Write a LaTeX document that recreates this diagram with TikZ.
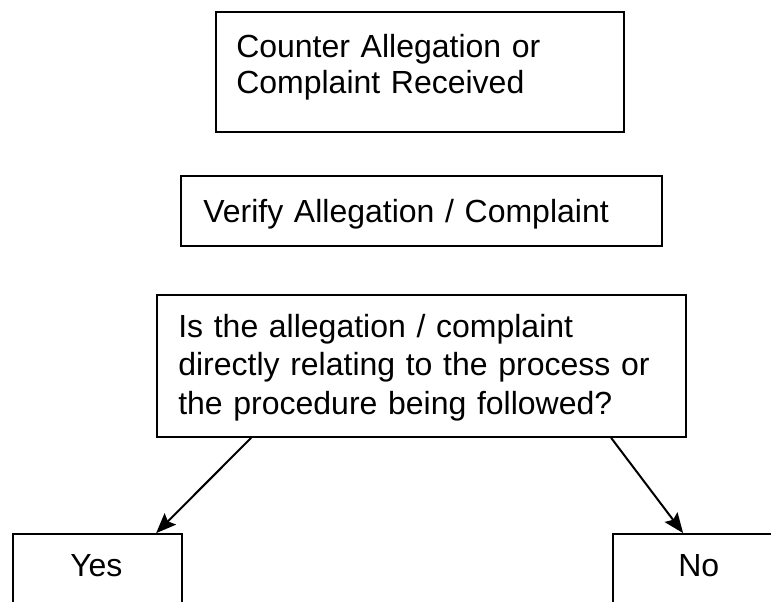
\documentclass[tikz,border=0pt]{standalone}
\usepackage{fontspec}
\setmainfont{Liberation Sans}
\usetikzlibrary{arrows.meta}
\begin{document}
\begin{tikzpicture}[x=0.75pt,y=-0.75pt,
  box/.style={draw, line width=1.3pt, inner sep=0pt},
  txt/.style={inner sep=0pt, anchor=base west, align=left, font=\fontsize{24}{28.9}\selectfont},
  arr/.style={line width=1.5pt, -{Stealth[length=15pt,width=12pt,inset=2.5pt]}}]
\useasboundingbox (0,0) rectangle (771,602);
\clip (0,0) rectangle (771,602);
% boxes
\node[box, minimum width=306pt, minimum height=90pt] (b1) at (420,72) {};
\node[box, minimum width=360.75pt, minimum height=52.5pt] (b2) at (421.5,211) {};
\node[box, minimum width=396.75pt, minimum height=106.5pt] (b3) at (421.5,366) {};
\node[box, minimum width=126.75pt, minimum height=69pt] (yes) at (97.5,580) {};
\node[box, minimum width=140.25pt, minimum height=69pt] (no) at (706.5,580) {};
% texts
\node[txt, text width=300pt, font=\fontsize{24}{26.5}\selectfont] (t1) at (236,58) {Counter Allegation or\\Complaint Received};
\node[txt, text width=340pt] (t2) at (203,223) {Verify Allegation / Complaint};
\node[txt, text width=390pt] (t3) at (178,337) {Is the allegation / complaint\\directly relating to the process or\\the procedure being followed?};
\node[txt] (t4) at (70,576) {Yes};
\node[txt] (t5) at (678,576) {No};
% connectors
\draw[arr] ([xshift=71.25pt]b3.south west) -- ([xshift=108pt]yes.north west);
\draw[arr] ([xshift=341.25pt]b3.south west) -- ([xshift=53.25pt]no.north west);
\end{tikzpicture}
\end{document}
